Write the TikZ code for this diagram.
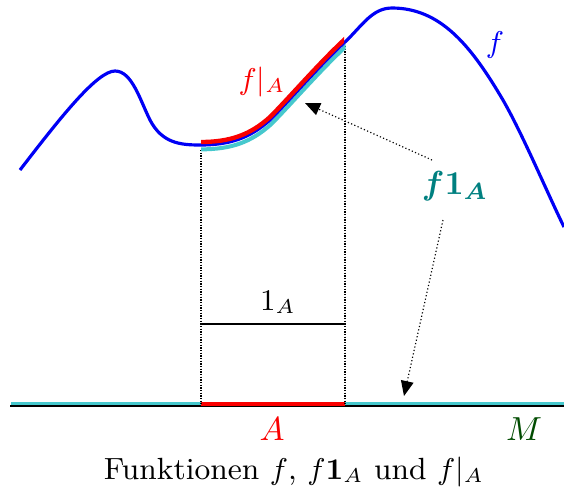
\documentclass[tikz,border=0pt]{standalone}
\usepackage{amsmath,bm}
\usetikzlibrary{arrows.meta}
\definecolor{fblue}{RGB}{0,0,245}
\definecolor{fred}{RGB}{250,0,0}
\definecolor{fcyan}{RGB}{70,200,205}
\definecolor{fteal}{RGB}{0,128,128}
\definecolor{mgreen}{RGB}{0,75,0}
\newcommand{\fcurve}{(20,170) .. controls (60,118) and (97,71) .. (115,71)
  .. controls (132,71) and (140,100) .. (150,120)
  .. controls (162,143) and (180,145) .. (200,145)
  .. controls (230,145) and (250,138) .. (270,120)
  .. controls (288,102) and (320,65) .. (345,42)
  .. controls (362,26) and (372,8) .. (392,8)
  .. controls (440,8) and (470,45) .. (500,95)
  .. controls (520,128) and (545,188) .. (564,227)}
\begin{document}
\begin{tikzpicture}[x=0.3pt,y=-0.3pt,
  fline/.style={line width=0.95pt,fblue},
  dotline/.style={line width=0.35pt,dash pattern=on 0.35pt off 0.45pt},
  dotarrow/.style={line width=0.35pt,dash pattern=on 0.35pt off 0.7pt,-{Triangle[length=4.5pt,width=3.8pt]}},
  lbl/.style={inner sep=0pt,font=\fontsize{9.2}{11}\selectfont}]
\useasboundingbox (0,0) rectangle (564,495);
% baseline
\coordinate (bl) at (10,406);
\coordinate (br) at (564,406);
\coordinate (bal) at (201,404);
\coordinate (bar) at (345,404);
\draw[line width=1.2pt,fcyan] (11,403.5) -- (564,403.5);
\draw[line width=0.5pt] (bl) -- (br);
\draw[line width=1.3pt,fred] (bal) -- (bar);
% dotted verticals
\draw[dotline] (201,150) -- (201,404);
\draw[dotline] (345,46) -- (345,404);
% 1_A
\coordinate (ol) at (201,324);
\coordinate (or) at (345,324);
\draw[line width=0.45pt] (ol) -- (or);
\node[lbl] (oneA) at (278,302) {$1_{A}$};
% cyan piece (f 1_A), shifted down
\begin{scope}
\clip (201,0) rectangle (345.5,495);
\draw[line width=1.2pt,fcyan,yshift=-1.3pt,xshift=0.3pt] \fcurve;
\end{scope}
\draw[fline] \fcurve;
% red piece (f|_A), shifted up
\begin{scope}
\clip (201,0) rectangle (344,495);
\draw[line width=1.3pt,fred,yshift=0.9pt] \fcurve;
\end{scope}
% labels
\node[lbl,fblue] (flab) at (495,45) {$f$};
\node[lbl,fred] (frA) at (262,82) {$f|_{A}$};
\node[lbl,fteal] (f1A) at (455,186) {\fontsize{10}{12}\selectfont$\bm{f}\mathbf{1}_{\bm{A}}$};
\node[lbl,fred] (Alab) at (272,429) {\fontsize{10}{12}\selectfont$A$};
\node[lbl,mgreen] (Mlab) at (524,429) {\fontsize{10}{12}\selectfont$M$};
\coordinate (t1) at (305,103);
\coordinate (t2) at (404,396);
\coordinate (s1) at (432,160);
\coordinate (s2) at (443,220);
\draw[dotarrow] (s1) -- (t1);
\draw[dotarrow] (s2) -- (t2);
\node[lbl] (cap) at (294,472) {Funktionen $f$, $f\mathbf{1}_{A}$ und $f|_{A}$};
\end{tikzpicture}
\end{document}
